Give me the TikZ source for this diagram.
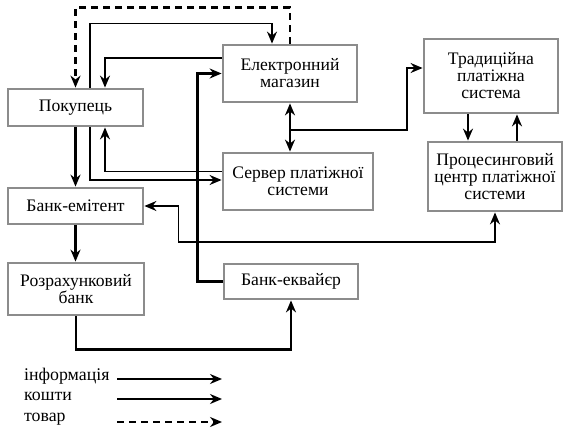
\documentclass[tikz,border=0pt]{standalone}
\usepackage{fontspec}
\setmainfont{Liberation Serif}
\newfontfamily\schemefont{Liberation Serif}
\usepackage{tikz}
\usetikzlibrary{arrows.meta, positioning, calc}
\definecolor{framegray}{HTML}{8C8C8C}
\tikzset{
  >={Stealth[length=12pt,width=10pt]},
  block/.style={draw=framegray, line width=2.8pt, fill=white, align=center, inner sep=1pt,
    font=\schemefont\fontsize{17.6}{17}\selectfont},
  info/.style={line width=1.8pt, ->},
  money/.style={line width=2.8pt, ->},
  goods/.style={line width=2.2pt, dash pattern=on 7pt off 5pt, ->},
  legend/.style={anchor=west, inner sep=0pt, font=\schemefont\fontsize{17.8}{18}\selectfont}
}

\begin{document}
\begin{tikzpicture}[x=1pt, y=-1pt]
  \useasboundingbox (0,0) rectangle (568,436);

  % Left column
  \node[block, minimum width=135, minimum height=37] (buyer) at (75.5,107.5) {Покупець};
  \node[block, minimum width=135, minimum height=36] (issuer) at (75.5,206) {Банк-емітент};
  \node[block, minimum width=136, minimum height=52] (settle) at (76,289) {Розрахунковий\\банк};

  % Middle column
  \node[block, minimum width=134, minimum height=57] (shop) at (290,73.5) {Електронний\\магазин};
  \node[block, minimum width=150, minimum height=57] (server) at (298,181.5) {Сервер платіжної\\системи};
  \node[block, minimum width=134, minimum height=35] (acquirer) at (291,281.5) {Банк-еквайєр};

  % Right column
  \node[block, minimum width=134, minimum height=74] (trad) at (491,76) {Традиційна\\платіжна\\система};
  \node[block, minimum width=134, minimum height=69] (proc) at (495,176.5) {Процесинговий\\центр платіжної\\системи};

  % Goods
  \draw[goods] (shop.north) -- ++(0,-36) -| (buyer.north);

  % Buyer and shop
  \draw[info] ([xshift=14.5pt]buyer.north) -- ++(0,-64) -| ([xshift=-18pt]shop.north);
  \draw[info] ([yshift=15.5pt]shop.west) -| ([xshift=29.5pt]buyer.north);

  % Buyer and payment server
  \draw[info] ([xshift=14.5pt]buyer.south) |- ([yshift=1.5pt]server.west);
  \draw[info] ([yshift=10pt]server.west) -| ([xshift=29.5pt]buyer.south);

  % Money down the left column
  \draw[money] (buyer.south) -- (issuer.north);
  \draw[money] (issuer.south) -- (issuer.south |- settle.north);
  \draw[money] (settle.south) -- ++(0,33) -| (acquirer.south);
  \draw[money] (acquirer.west) -- ++(-25,0) |- (shop.west);

  % Shop and server
  \draw[money, <->] (shop.south) -- (shop.south |- server.north);
  \coordinate (split) at ($(shop.south)!0.55!(shop.south |- server.north)$);
  \draw[info] (split) -- ++(117,0) |- ([yshift=8pt]trad.west);

  % Traditional system and processing centre
  \draw[info] ([xshift=-23pt]trad.south) -- ([xshift=-23pt]trad.south |- proc.north);
  \draw[info] ([xshift=22pt]proc.north) -- ([xshift=22pt]proc.north |- trad.south);
  \draw[info, <->] (issuer.east) -- ++(34,0) -- ++(0,36) -| (proc.south);

  % Legend
  \foreach \y/\lbl/\kind [count=\i] in {376/інформація/info, 396/кошти/money, 419/товар/goods} {
    \node[legend] (leg\i) at (24,\y) {\lbl};
    \coordinate (legA\i) at (117,\y+3);
    \coordinate (legB\i) at (222,\y+3);
    \draw[\kind] (legA\i) -- (legB\i);
  }
\end{tikzpicture}
\end{document}
